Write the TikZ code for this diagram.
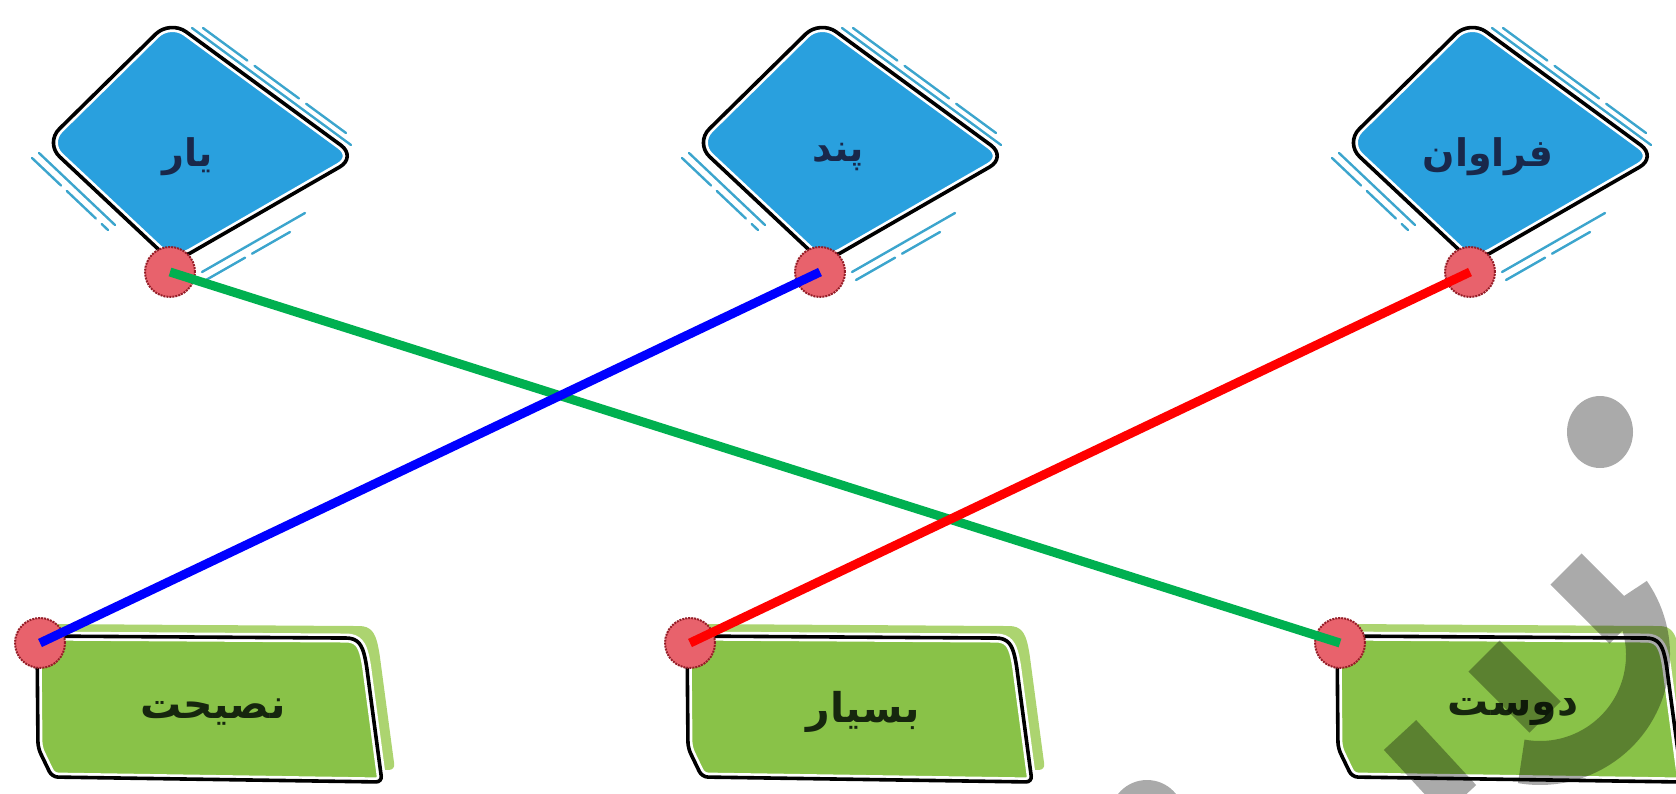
\documentclass[tikz,border=0pt]{standalone}
\usepackage{fontspec}
\newfontfamily\arabicfont[Script=Arabic]{DejaVu Sans}
\TeXXeTstate=1
\usetikzlibrary{calc}
\definecolor{dblue}{RGB}{41,160,222}
\definecolor{dnavy}{RGB}{25,40,75}
\definecolor{bgreen}{RGB}{137,194,72}
\definecolor{lgreen}{RGB}{172,212,112}
\definecolor{dotred}{RGB}{232,98,108}
\definecolor{dotedge}{RGB}{150,30,40}
\definecolor{lineg}{RGB}{0,176,80}
\definecolor{skyln}{RGB}{60,165,205}
\definecolor{wm}{RGB}{170,170,170}
\definecolor{gtext}{RGB}{22,38,14}
\tikzset{
  diafill/.style={fill=dblue, rounded corners=20pt},
  outlinew/.style={draw=white, line width=9pt, rounded corners=20pt},
  outlineb/.style={draw=black, line width=3.6pt, rounded corners=20pt},
  skystroke/.style={draw=skyln, line width=2.4pt, line cap=round},
  toptext/.style={text=dnavy, font=\fontsize{38}{44}\selectfont\arabicfont\bfseries, inner sep=0pt},
  bottext/.style={text=gtext, font=\fontsize{41}{48}\selectfont\arabicfont\bfseries, inner sep=0pt},
  reddot/.style={circle, fill=dotred, draw=dotedge, densely dotted, line width=2pt, minimum size=50pt, inner sep=0pt},
  conn/.style={line width=9pt},
  wmstroke/.style={draw=wm, line width=44pt}
}
\newcommand{\diashape}{(0,20) -- (187,157) -- (3,263) -- (-125,143) -- cycle}
\newcommand{\boxshape}{(-3,636) -- (300,638) .. controls (318,638) and (322,645) .. (326,662) -- (342,782) -- (12,777) -- (-2,748) -- cycle}
\newcommand{\topitem}[3]{%
  \begin{scope}[shift={(#1,0)}]
    \draw[skystroke] (22,28) -- (181,145);
    \draw[skystroke, dash pattern=on 55pt off 9pt] (33,28) -- (176,133);
    \draw[skystroke] (-131,153) -- (-55,225);
    \draw[skystroke, dash pattern=on 40pt off 8pt] (-138,158) -- (-62,230);
    \draw[skystroke] (32,272) -- (135,213);
    \draw[skystroke, dash pattern=on 45pt off 8pt] (36,280) -- (120,232);
    \path[diafill] \diashape;
    \path[outlinew] \diashape;
    \path[outlineb] \diashape;
    \node[toptext] (t#2) at (18,157) {\beginR #3\endR};
    \node[reddot] (d#2) at (0,272) {};
  \end{scope}}
\newcommand{\botitem}[3]{%
  \begin{scope}[shift={(#1,0)}]
    \fill[lgreen, rounded corners=6pt, shift={(13,-12)}] \boxshape;
    \fill[bgreen, rounded corners=6pt] \boxshape;
    \draw[white, line width=9pt, rounded corners=6pt] \boxshape;
    \draw[black, line width=3.6pt, rounded corners=6pt] \boxshape;
    \node[bottext] (w#2) at (173,712) {\beginR #3\endR};
    \node[reddot] (b#2) at (0,643) {};
  \end{scope}}
\begin{document}
\begin{tikzpicture}[x=1pt, y=-1pt]
\useasboundingbox (0,0) rectangle (1676,793);
\topitem{170}{1}{یار}
\topitem{820}{2}{پند}
\topitem{1470}{3}{فراوان}
\botitem{40}{1}{نصیحت}
\botitem{690}{2}{بسیار}
\botitem{1340}{3}{دوست}
\draw[conn, lineg] (d1.center) -- (b3.center);
\draw[conn, blue] (d2.center) -- (b1.center);
\draw[conn, red] (d3.center) -- (b2.center);
\begin{scope}[blend mode=multiply]
  \fill[wm] (1600,432) ellipse [x radius=33, y radius=36];
  \fill[wm] (1147,817) circle (37);
  \draw[wmstroke] (1566,569) -- (1625,628)
    (1540,655) ++(-35:108) arc[start angle=-35, end angle=100, radius=108]
    (1484,656) -- (1545,717)
    (1400,735) -- (1460,800);
\end{scope}
\end{tikzpicture}
\end{document}
